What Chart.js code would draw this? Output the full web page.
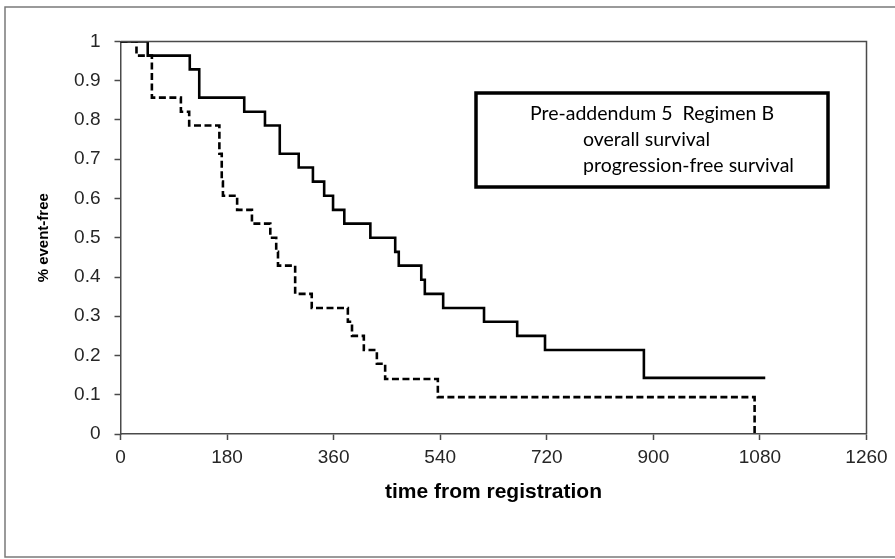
<!DOCTYPE html>
<html>
<head>
<meta charset="utf-8">
<script src="https://cdn.jsdelivr.net/npm/chart.js@4"></script>
<style>
  body { margin: 0; background: #fff; }
  #km { display: block; }
</style>
</head>
<body>
<canvas id="km" width="895" height="559"></canvas>
<script>
// overall survival (solid)
const osDays = [0, 46, 117, 133, 209, 244, 269, 301, 325, 344, 359, 378, 422, 464, 470, 508, 514, 545, 614, 670, 717, 884, 1089];
const osSurv = [1, 0.964, 0.929, 0.857, 0.821, 0.786, 0.714, 0.679, 0.643, 0.607, 0.571, 0.536, 0.5, 0.464, 0.429, 0.393, 0.357, 0.321, 0.286, 0.25, 0.214, 0.143, 0.143];

// progression-free survival (dashed)
const pfsDays = [0, 27, 53, 102, 116, 167, 171, 173, 197, 222, 253, 263, 266, 295, 323, 384, 391, 411, 433, 447, 536, 1071];
const pfsSurv = [1, 0.964, 0.857, 0.821, 0.786, 0.714, 0.643, 0.607, 0.571, 0.536, 0.5, 0.464, 0.429, 0.357, 0.321, 0.286, 0.25, 0.214, 0.179, 0.14, 0.094, 0];

const xTicks = [0, 180, 360, 540, 720, 900, 1080, 1260];
const yTicks = [0, 0.1, 0.2, 0.3, 0.4, 0.5, 0.6, 0.7, 0.8, 0.9, 1];

const legendLines = ['Pre-addendum 5  Regimen B', 'overall survival', 'progression-free survival'];

const toPoints = (xs, ys) => xs.map((x, i) => ({x: x, y: ys[i]}));

const axisGray = '#4a4a4a';

const framePlugin = {
    id: 'frame',
    beforeDraw(chart) {
        const ctx = chart.ctx;
        ctx.save();
        ctx.fillStyle = '#fff';
        ctx.fillRect(0, 0, chart.width, chart.height);
        // outer picture border
        ctx.strokeStyle = '#7a7a7a';
        ctx.lineWidth = 1.5;
        ctx.beginPath();
        ctx.moveTo(900, 7);
        ctx.lineTo(5, 7);
        ctx.lineTo(5, 557);
        ctx.lineTo(900, 557);
        ctx.stroke();
        ctx.restore();
    },
    afterDatasetsDraw(chart) {
        const ctx = chart.ctx;
        const a = chart.chartArea;
        ctx.save();
        // top and right edges of the plot box
        ctx.strokeStyle = axisGray;
        ctx.lineWidth = 1.5;
        ctx.beginPath();
        ctx.moveTo(a.left, a.top);
        ctx.lineTo(a.right, a.top);
        ctx.lineTo(a.right, a.bottom);
        ctx.stroke();

        // legend box
        ctx.fillStyle = '#fff';
        ctx.fillRect(476, 93, 352, 94);
        ctx.strokeStyle = '#000';
        ctx.lineWidth = 3.5;
        ctx.strokeRect(476, 93, 352, 94);
        ctx.fillStyle = '#000';
        ctx.font = '19.5px Lato';
        ctx.textBaseline = 'alphabetic';
        ctx.textAlign = 'left';
        ctx.fillText(legendLines[0], 530, 120);
        ctx.fillText(legendLines[1], 583, 146);
        ctx.fillText(legendLines[2], 583, 172);
        ctx.restore();
    }
};

const ctx = document.getElementById('km').getContext('2d');
const chart = new Chart(ctx, {
    type: 'line',
    data: {
        datasets: [{
            label: 'overall survival',
            data: toPoints(osDays, osSurv),
            borderColor: '#000',
            borderWidth: 2.6,
            stepped: 'before',
            pointRadius: 0,
            fill: false
        }, {
            label: 'progression-free survival',
            data: toPoints(pfsDays, pfsSurv),
            borderColor: '#000',
            borderWidth: 2.6,
            borderDash: [7, 3.5],
            stepped: 'before',
            pointRadius: 0,
            fill: false
        }]
    },
    options: {
        responsive: false,
        animation: false,
        devicePixelRatio: 1,
        layout: {
            padding: {left: 0, top: 41.5, right: 28.5, bottom: 0}
        },
        plugins: {
            legend: {display: false},
            tooltip: {enabled: false}
        },
        scales: {
            x: {
                type: 'linear',
                min: 0,
                max: 1260,
                afterFit: s => { s.height = 125; },
                afterBuildTicks: s => { s.ticks = xTicks.map(v => ({value: v})); },
                ticks: {
                    color: '#262626',
                    font: {family: 'Liberation Sans', size: 19},
                    padding: 6,
                    maxRotation: 0,
                    autoSkip: false,
                    callback: v => String(v)
                },
                grid: {
                    drawOnChartArea: false,
                    color: axisGray,
                    tickLength: 6,
                    tickWidth: 1.5
                },
                border: {color: axisGray, width: 1.5},
                title: {
                    display: true,
                    text: 'time from registration',
                    color: '#000',
                    font: {family: 'Liberation Sans', size: 21, weight: 'bold'},
                    padding: {top: 0, bottom: 54}
                }
            },
            y: {
                min: 0,
                max: 1,
                afterFit: s => { s.width = 120.5; },
                afterBuildTicks: s => { s.ticks = yTicks.map(v => ({value: v})); },
                ticks: {
                    color: '#262626',
                    font: {family: 'Liberation Sans', size: 19},
                    padding: 14,
                    callback: v => String(Math.round(v * 10) / 10)
                },
                grid: {
                    drawOnChartArea: false,
                    color: axisGray,
                    tickLength: 6,
                    tickWidth: 1.5
                },
                border: {color: axisGray, width: 1.5},
                title: {
                    display: true,
                    text: '% event-free',
                    color: '#000',
                    font: {family: 'Liberation Sans', size: 15, weight: 'bold'},
                    padding: {top: 35, bottom: 0}
                }
            }
        }
    },
    plugins: [framePlugin]
});
</script>
</body>
</html>
